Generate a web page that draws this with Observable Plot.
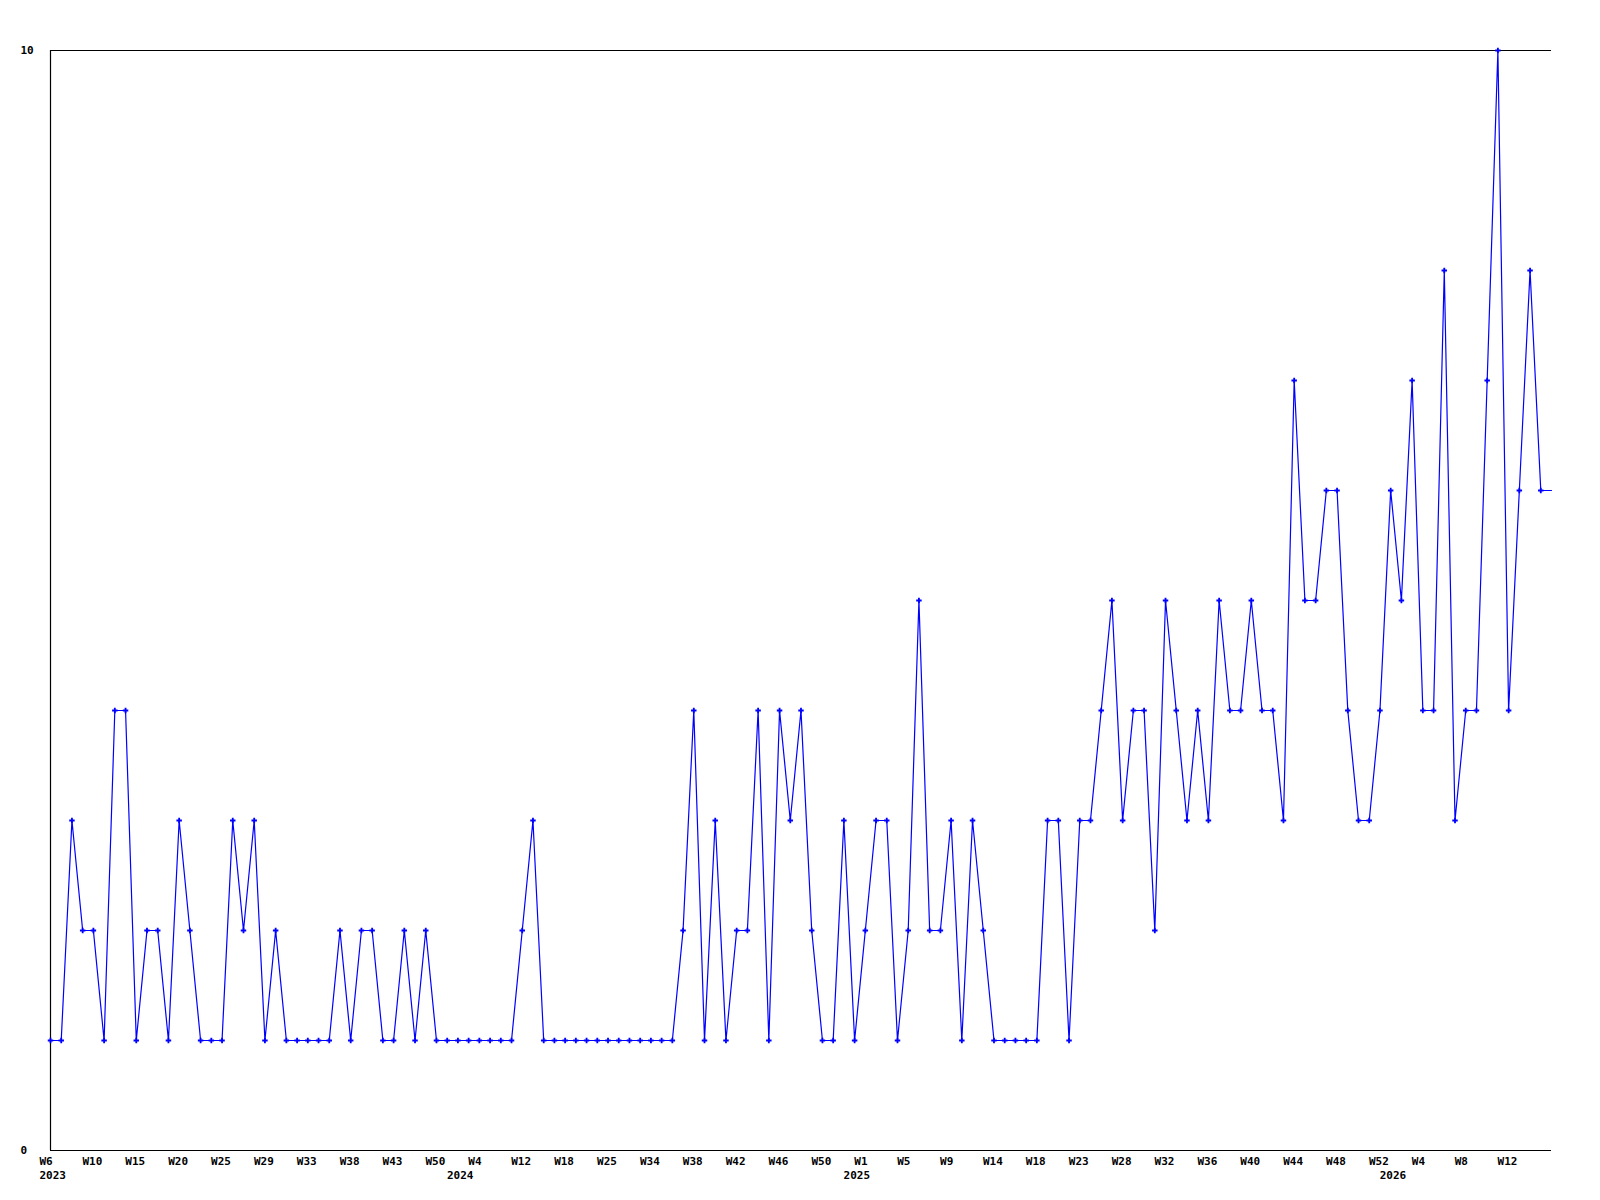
<!DOCTYPE html>
<html>
<head>
<meta charset="utf-8">
<script src="https://cdn.jsdelivr.net/npm/d3@7"></script>
<script src="https://cdn.jsdelivr.net/npm/@observablehq/plot@0.6"></script>
<style>
  html, body { margin: 0; padding: 0; background: #fff; }
  #chart svg { display: block; }
</style>
</head>
<body>
<div id="chart"></div>
<script>
// Weekly counts (weeks with no entries are omitted, so the x axis is the point order)
const counts = [
  1, 1, 3, 2, 2, 1, 4, 4, 1, 2, 2, 1, 3, 2, 1, 1, 1, 3, 2, 3,
  1, 2, 1, 1, 1, 1, 1, 2, 1, 2, 2, 1, 1, 2, 1, 2, 1, 1, 1, 1,
  1, 1, 1, 1, 2, 3, 1, 1, 1, 1, 1, 1, 1, 1, 1, 1, 1, 1, 1, 2,
  4, 1, 3, 1, 2, 2, 4, 1, 4, 3, 4, 2, 1, 1, 3, 1, 2, 3, 3, 1,
  2, 5, 2, 2, 3, 1, 3, 2, 1, 1, 1, 1, 1, 3, 3, 1, 3, 3, 4, 5,
  3, 4, 4, 2, 5, 4, 3, 4, 3, 5, 4, 4, 5, 4, 4, 3, 7, 5, 5, 6,
  6, 4, 3, 3, 4, 6, 5, 7, 4, 4, 8, 3, 4, 4, 7, 10, 4, 6, 8, 6
];
// current (open) week, drawn as a plain continuation
const currentWeek = 6;

// Week tick labels, one for every 4th point
const weekLabels = [
  "W6", "W10", "W15", "W20", "W25", "W29", "W33", "W38", "W43", "W50",
  "W4", "W12", "W18", "W25", "W34", "W38", "W42", "W46", "W50",
  "W1", "W5", "W9", "W14", "W18", "W23", "W28", "W32", "W36", "W40",
  "W44", "W48", "W52", "W4", "W8", "W12"
];
const labelEvery = 4;

// Year labels and the point where each year starts
const years = ["2023", "2024", "2025", "2026"];
const yearStart = [0, 38, 75, 125];

const yTickValues = [0, 10];

// ---- tables built from the arrays ----
const pts = counts.map((v, i) => ({i, v}));
const tail = [
  {i: counts.length - 1, v: counts[counts.length - 1]},
  {i: counts.length, v: currentWeek}
];
const weekTicks = weekLabels.map((t, k) => ({i: k * labelEvery, t}));
const yearTicks = years.map((t, k) => ({i: yearStart[k], t}));

const font = "'DejaVu Sans Mono', 'Liberation Mono', monospace";

const chart = Plot.plot({
  width: 1600,
  height: 1200,
  marginLeft: 50,
  marginRight: 49,
  marginTop: 50,
  marginBottom: 50,
  style: {fontFamily: font, fontSize: "11px", fontWeight: "bold", background: "#fff", color: "#000"},
  x: {type: "linear", domain: [0, counts.length], axis: null},
  y: {type: "linear", domain: [0, 10], axis: null},
  marks: [
    Plot.ruleY([10], {stroke: "#000", strokeWidth: 1}),
    Plot.ruleY([0], {stroke: "#000", strokeWidth: 1.2}),
    Plot.ruleX([0], {stroke: "#000", strokeWidth: 1.2}),
    Plot.line(tail, {x: "i", y: "v", stroke: "#0000ff", strokeWidth: 1}),
    Plot.line(pts, {x: "i", y: "v", stroke: "#0000ff", strokeWidth: 1.2, curve: "linear"}),
    Plot.dot(pts, {x: "i", y: "v", symbol: "cross", r: 2.3, fill: "#0000ff", stroke: "none"}),
    Plot.text(weekTicks, {
      x: "i", text: "t", frameAnchor: "bottom", dy: 14, dx: -11,
      textAnchor: "start", fill: "#000", fontWeight: "bold", fontSize: 11
    }),
    Plot.text(yearTicks, {
      x: "i", text: "t", frameAnchor: "bottom", dy: 28, dx: -11,
      textAnchor: "start", fill: "#000", fontWeight: "bold", fontSize: 11
    }),
    Plot.text(yTickValues, {
      y: (d) => d, text: (d) => String(d), frameAnchor: "left", dx: -30,
      textAnchor: "start", fill: "#000", fontWeight: "bold", fontSize: 11
    })
  ]
});

document.getElementById("chart").appendChild(chart);
</script>
</body>
</html>
